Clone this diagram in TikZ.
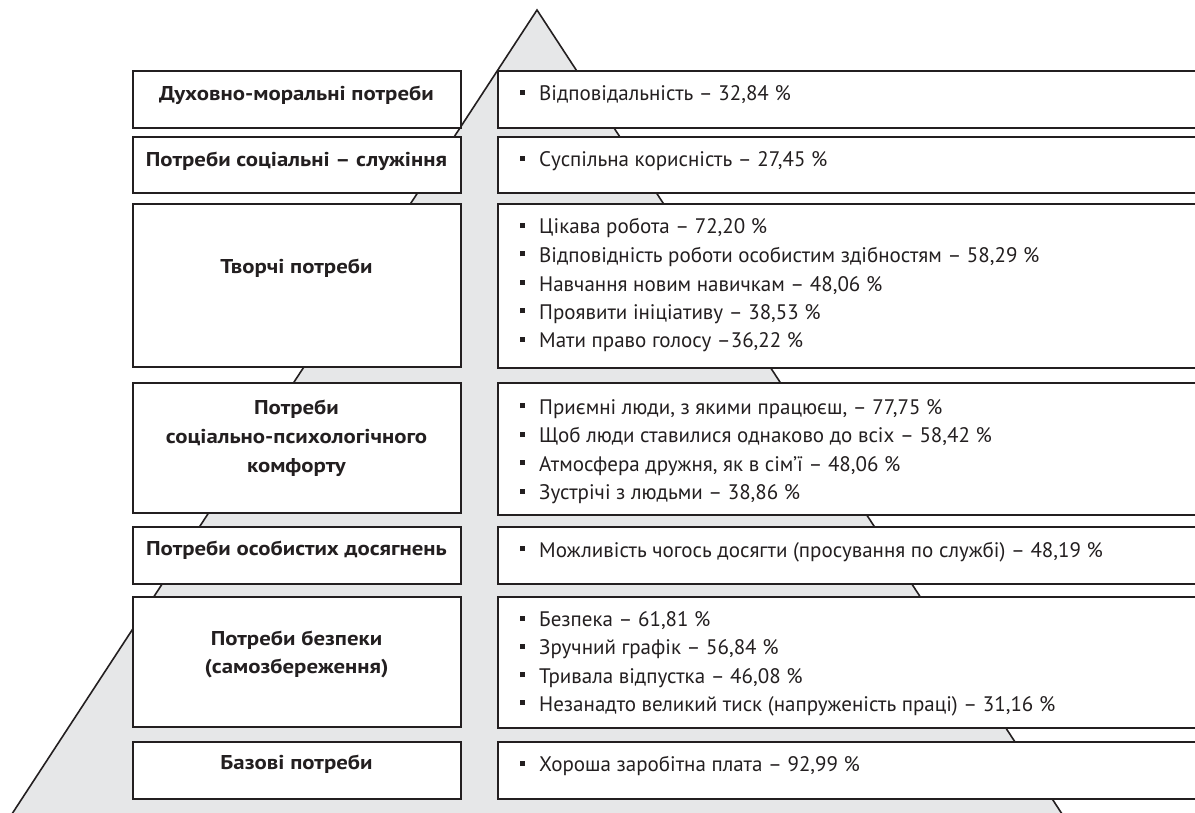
\documentclass[tikz,border=0pt]{standalone}
\usepackage{fontspec}
\setmainfont{PT Sans}
\newfontfamily\lbfont[FakeStretch=1.14]{PT Sans}
\newfontfamily\condfont{PT Sans}
\definecolor{pyrgray}{HTML}{E6E7E8}
\definecolor{ink}{HTML}{231F20}
\newcommand{\bul}{\rule[6pt]{5pt}{5pt}\hspace{14pt}}
\tikzset{
  lbox/.style={draw=ink, line width=2.2pt, fill=white, anchor=north west, inner sep=0pt, minimum width=328pt},
  rbox/.style={draw=ink, line width=2.2pt, fill=white, anchor=north west, inner sep=0pt, minimum width=720pt},
  ltext/.style={font=\lbfont\bfseries\fontsize{20}{20}\selectfont, text=ink, anchor=base, inner sep=0pt},
  ritem/.style={font=\condfont\fontsize{21}{21}\selectfont, text=ink, anchor=base west, inner sep=0pt},
}
\begin{document}
\begin{tikzpicture}[x=1pt,y=-1pt]
\useasboundingbox (0,0) rectangle (1195,813);
\clip (0,0) rectangle (1195,813);
% pyramid
\coordinate (apex) at (537,10);
\coordinate (bl) at (1.5,830);
\coordinate (br) at (1072.5,830);
\filldraw[fill=pyrgray, draw=ink, line width=1.6pt, line join=miter] (apex) -- (bl) -- (br) -- cycle;
% left boxes
\node[lbox, minimum height=57pt] (L1) at (132,70) {};
\node[lbox, minimum height=56pt] (L2) at (132,136) {};
\node[lbox, minimum height=163pt] (L3) at (132,203) {};
\node[lbox, minimum height=130pt] (L4) at (132,382) {};
\node[lbox, minimum height=57pt] (L5) at (132,526) {};
\node[lbox, minimum height=130pt] (L6) at (132,596) {};
\node[lbox, minimum height=57pt] (L7) at (132,740.5) {};
% right boxes
\node[rbox, minimum height=57pt] (R1) at (497,70) {};
\node[rbox, minimum height=56pt] (R2) at (497,136) {};
\node[rbox, minimum height=164pt] (R3) at (497,203) {};
\node[rbox, minimum height=132pt] (R4) at (497,382) {};
\node[rbox, minimum height=57pt] (R5) at (497,526) {};
\node[rbox, minimum height=131pt] (R6) at (497,596) {};
\node[rbox, minimum height=57pt] (R7) at (497,740.5) {};
% left texts
\node[ltext] (t1) at (296.5,100.7) {Духовно-моральні потреби};
\node[ltext] (t2) at (296.5,167) {Потреби соціальні – служіння};
\node[ltext] (t3) at (296.5,274) {Творчі потреби};
\node[ltext] (t4a) at (296.5,414) {Потреби};
\node[ltext] (t4b) at (296.5,443.3) {соціально-психологічного};
\node[ltext] (t4c) at (296.5,472.3) {комфорту};
\node[ltext] (t5) at (296.5,555.7) {Потреби особистих досягнень};
\node[ltext] (t6a) at (296.5,645) {Потреби безпеки};
\node[ltext] (t6b) at (296.5,673.3) {(самозбереження)};
\node[ltext] (t7) at (296.5,769) {Базові потреби};
% right items
\node[ritem] (i1a) at (520,100.7) {\bul Відповідальність – 32,84 \%};
\node[ritem] (i2a) at (520,167) {\bul Суспільна корисність – 27,45 \%};
\node[ritem] (i3a) at (520,234) {\bul Цікава робота – 72,20 \%};
\node[ritem] (i3b) at (520,262.5) {\bul Відповідність роботи особистим здібностям – 58,29 \%};
\node[ritem] (i3c) at (520,291) {\bul Навчання новим навичкам – 48,06 \%};
\node[ritem] (i3d) at (520,319.5) {\bul Проявити ініціативу – 38,53 \%};
\node[ritem] (i3e) at (520,348) {\bul Мати право голосу –36,22 \%};
\node[ritem] (i4a) at (520,414) {\bul Приємні люди, з якими працюєш, – 77,75 \%};
\node[ritem] (i4b) at (520,442.5) {\bul Щоб люди ставилися однаково до всіх – 58,42 \%};
\node[ritem] (i4c) at (520,471) {\bul Атмосфера дружня, як в сім’ї – 48,06 \%};
\node[ritem] (i4d) at (520,499.5) {\bul Зустрічі з людьми – 38,86 \%};
\node[ritem] (i5a) at (520,557) {\bul Можливість чогось досягти (просування по службі) – 48,19 \%};
\node[ritem] (i6a) at (520,626.5) {\bul Безпека – 61,81 \%};
\node[ritem] (i6b) at (520,654.8) {\bul Зручний графік – 56,84 \%};
\node[ritem] (i6c) at (520,683) {\bul Тривала відпустка – 46,08 \%};
\node[ritem] (i6d) at (520,711) {\bul Незанадто великий тиск (напруженість праці) – 31,16 \%};
\node[ritem] (i7a) at (520,771.5) {\bul Хороша заробітна плата – 92,99 \%};
\end{tikzpicture}
\end{document}
